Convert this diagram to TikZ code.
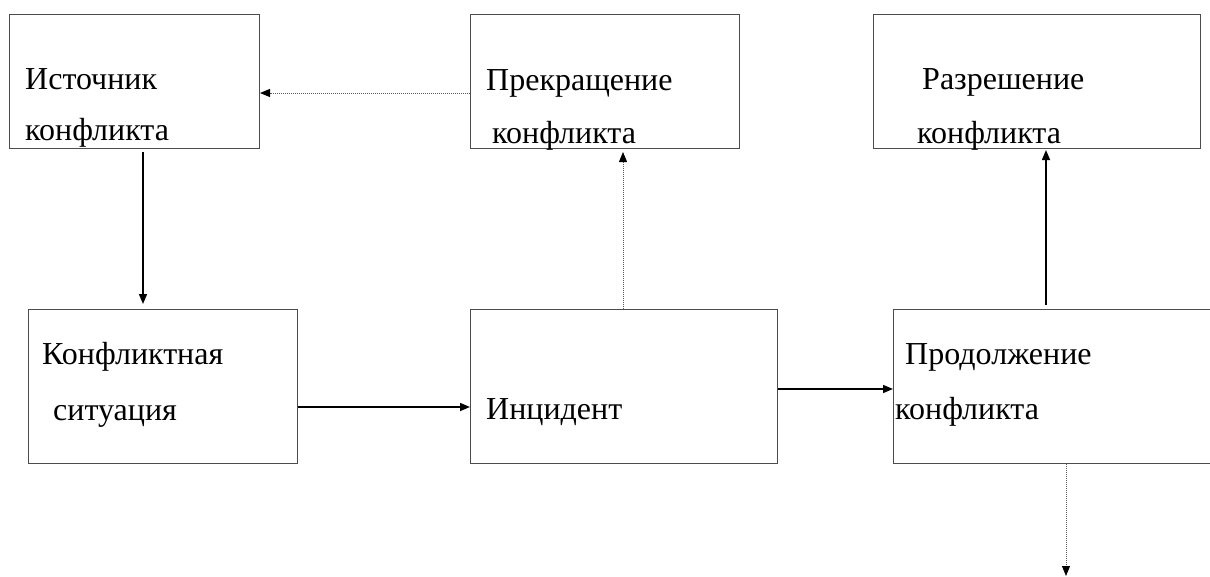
\documentclass[tikz,border=0pt]{standalone}
\usepackage{fontspec}
\setmainfont{Liberation Serif}
\newfontfamily\tnrfont{Liberation Serif}
\usetikzlibrary{arrows.meta}
\begin{document}
\begin{tikzpicture}[x=1pt,y=-1pt,
  box/.style={draw=black!70,line width=1pt,rectangle,inner sep=0pt,anchor=north west},
  lbl/.style={anchor=base west,inner sep=0pt,font=\tnrfont\fontsize{32}{34}\selectfont},
  solidarrow/.style={draw=black,line width=1.5pt,-{Triangle[length=10pt,width=8pt]}},
  dotarrow/.style={draw=black!65,line width=1pt,dash pattern=on 1pt off 1pt,-{Triangle[length=10pt,width=8pt,color=black,fill=black]}}]
\useasboundingbox (0,0) rectangle (1210,576);
% boxes
\node[box,minimum width=250pt,minimum height=134pt] (src) at (9,14) {};
\node[box,minimum width=269pt,minimum height=134pt] (stop) at (470,14) {};
\node[box,minimum width=327pt,minimum height=134pt] (res) at (873,14) {};
\node[box,minimum width=269pt,minimum height=154pt] (sit) at (28,309) {};
\node[box,minimum width=307pt,minimum height=154pt] (inc) at (470,309) {};
\node[box,minimum width=340pt,minimum height=154pt] (cont) at (893,309) {};
% labels
\node[lbl] (t1a) at (25,89) {Источник};
\node[lbl] (t1b) at (25,140) {конфликта};
\node[lbl] (t2a) at (486,90) {Прекращение};
\node[lbl] (t2b) at (492,143) {конфликта};
\node[lbl] (t3a) at (922,89) {Разрешение};
\node[lbl] (t3b) at (917,143) {конфликта};
\node[lbl] (t4a) at (42,364) {Конфликтная};
\node[lbl] (t4b) at (53,420) {ситуация};
\node[lbl] (t5) at (486,419) {Инцидент};
\node[lbl] (t6a) at (905,364) {Продолжение};
\node[lbl] (t6b) at (895,419) {конфликта};
% connectors
\coordinate (down) at (1066,576);
\draw[solidarrow] ([yshift=-3pt]src.south -| 143,0) -- ([yshift=5pt]sit.north -| 143,0);
\draw[dotarrow] (stop.west |- 0,93) -- (src.east |- 0,93);
\draw[dotarrow] (inc.north -| 623,0) -- ([yshift=-3pt]stop.south -| 623,0);
\draw[solidarrow] ([yshift=4pt]cont.north -| 1046,0) -- ([yshift=-1pt]res.south -| 1046,0);
\draw[solidarrow] (sit.east |- 0,407) -- (inc.west |- 0,407);
\draw[solidarrow] (inc.east |- 0,389) -- (cont.west |- 0,389);
\draw[dotarrow] (cont.south -| 1066,0) -- (down);
\end{tikzpicture}
\end{document}
